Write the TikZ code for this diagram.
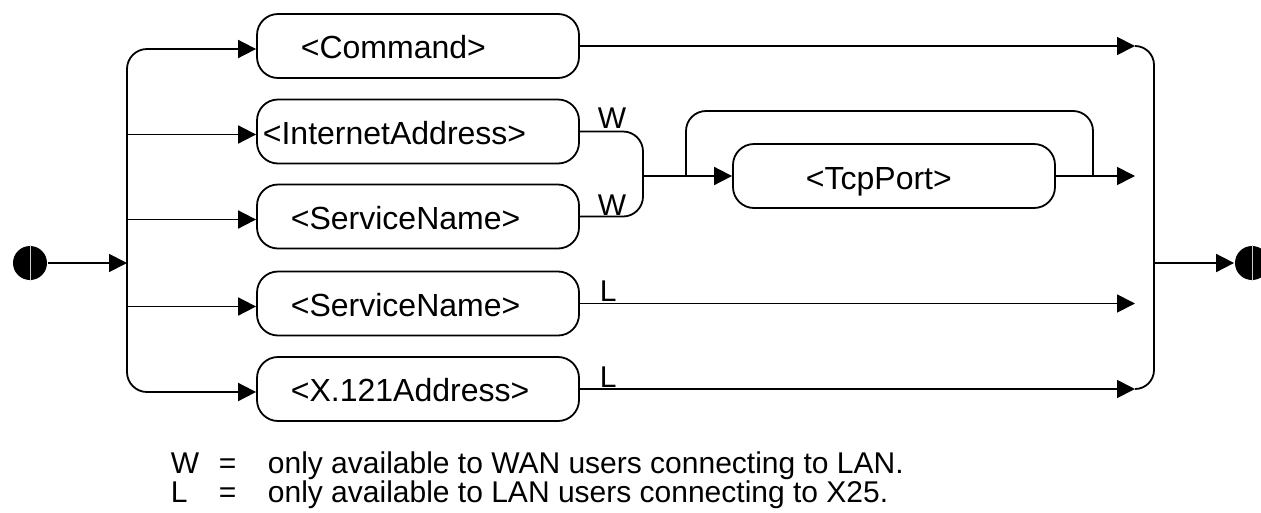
\documentclass[tikz,border=0pt]{standalone}
\usepackage{fontspec}
\setmainfont{Liberation Sans}
\usetikzlibrary{arrows.meta}
\begin{document}
\begin{tikzpicture}[x=1pt,y=-1pt,line width=1.8pt,
  arr/.style={-{Triangle[length=18pt,width=18pt]}},
  box/.style={draw,rounded corners=21pt,minimum width=322pt,minimum height=64pt,inner sep=0pt},
  txt/.style={font=\fontsize{32}{38}\selectfont,inner sep=0pt,anchor=base west},
  lgd/.style={font=\fontsize{30}{36}\selectfont,inner sep=0pt,anchor=base west},
  dot/.style={circle,fill,minimum size=34pt,inner sep=0pt},
  split/.style={gray!40,line width=0.8pt}]
\useasboundingbox (0,0) rectangle (1261,512);

% alternatives
\node[box] (cmd)  at (418,46)    {};
\node[box] (inet) at (418,131.5) {};
\node[box] (svcw) at (418,216.5) {};
\node[box] (svcl) at (418,303.5) {};
\node[box] (x121) at (418,389)   {};
\node[box] (tcp)  at (894,176)   {};

\node[txt] (cmdt)  at (300,58)    {<Command>};
\node[txt] (inett) at (262,144)   {<InternetAddress>};
\node[txt] (svcwt) at (290,229)   {<ServiceName>};
\node[txt] (svclt) at (290,316)   {<ServiceName>};
\node[txt] (x121t) at (290,401)   {<X.121Address>};
\node[txt] (tcpt)  at (805,189)   {<TcpPort>};

% start and end points
\node[dot] (start) at (30,263) {};
\draw[split] (start.north) -- (start.south);
\node[dot] (end) at (1252,263) {};
\draw[split] (end.north) -- (end.south);

% left bus
\coordinate (lbus) at (127,263);
\coordinate (cmd-in)  at ([yshift=-3pt]cmd.west);
\coordinate (inet-in) at ([yshift=-3pt]inet.west);
\coordinate (svcw-in) at ([yshift=-3pt]svcw.west);
\coordinate (svcl-in) at ([yshift=-3pt]svcl.west);
\coordinate (x121-in) at ([yshift=-3pt]x121.west);
\draw[arr] (start) -- (lbus);
\draw[arr,rounded corners=20pt] (lbus) |- (cmd-in);
\draw[arr,rounded corners=20pt] (lbus) |- (x121-in);
\draw[arr] (lbus |- inet-in) -- (inet-in);
\draw[arr] (lbus |- svcw-in) -- (svcw-in);
\draw[arr] (lbus |- svcl-in) -- (svcl-in);

% WAN-only join and TcpPort repetition
\coordinate (wj) at (643,176);
\draw[rounded corners=20pt] (inet.east) -| (wj) |- (svcw.east);
\draw[arr] (wj) -- (tcp.west);
\coordinate (lpa) at (686,176);
\coordinate (lpb) at (1093,176);
\coordinate (looptop) at (890,111);
\draw[rounded corners=20pt] (lpa) |- (looptop) -| (lpb);

\node[lgd,anchor=base] (w1) at (612,128) {W};
\node[lgd,anchor=base] (w2) at (612,215) {W};
\node[lgd] (l1) at (599,301) {L};
\node[lgd] (l2) at (599,387) {L};

% right bus
\coordinate (rt) at (1135,263);
\coordinate (rb) at (1154,263);
\draw[arr] (cmd.east) -- (cmd.east -| rt);
\draw[arr] (tcp.east) -- (tcp.east -| rt);
\draw[arr] (svcl.east) -- (svcl.east -| rt);
\draw[arr] (x121.east) -- (x121.east -| rt);
\draw[rounded corners=19pt] (cmd.east -| rt) -| (rb) |- (x121.east -| rt);
\draw[arr] (rb) -- (end);

% legend
\node[lgd] (kw)  at (170,473) {W};
\node[lgd] (kwe) at (218,473) {=};
\node[lgd] (kwt) at (267,473) {only available to WAN users connecting to LAN.};
\node[lgd] (kl)  at (170,502) {L};
\node[lgd] (kle) at (218,502) {=};
\node[lgd] (klt) at (267,502) {only available to LAN users connecting to X25.};
\end{tikzpicture}
\end{document}
